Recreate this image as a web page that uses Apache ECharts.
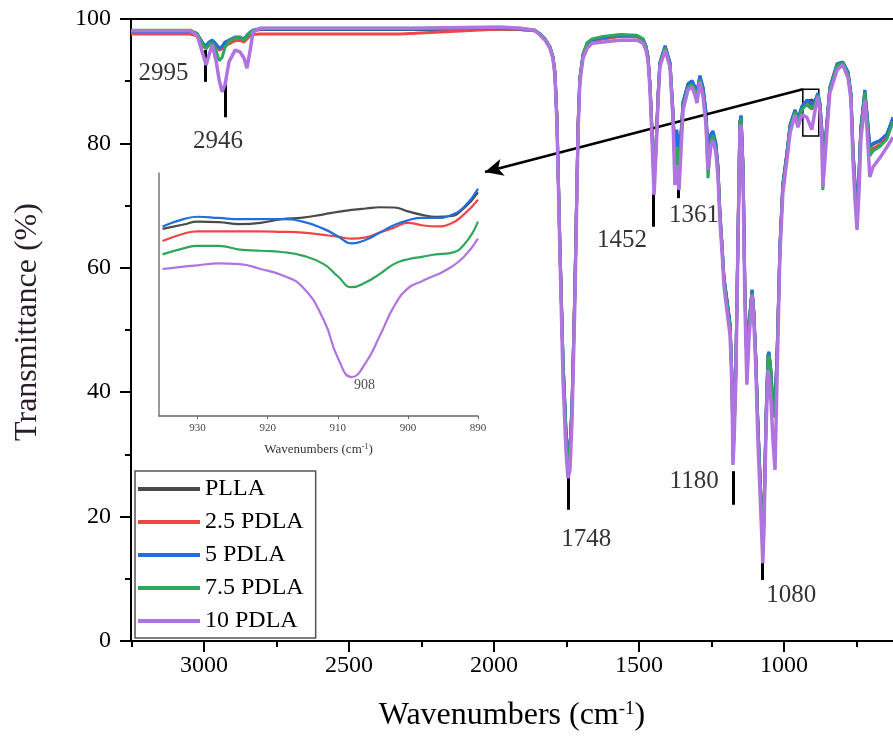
<!DOCTYPE html>
<html><head><meta charset="utf-8">
<script src="https://cdn.jsdelivr.net/npm/echarts@6/dist/echarts.min.js"></script>
<style>html,body{margin:0;padding:0;background:#fff}#c{width:893px;height:742px}</style>
</head><body><div id="c"></div>
<script>
// ---------- main spectrum data ----------
const seriesNames = ['PLLA', '2.5 PDLA', '5 PDLA', '7.5 PDLA', '10 PDLA'];
const wn = [
  3252, 3048, 3024, 3003, 2993, 2983, 2972, 2959, 2948, 2938,
  2928, 2914, 2893, 2876, 2862, 2852, 2841, 2831, 2807, 2669,
  2324, 2272, 1979, 1910, 1859, 1841, 1824, 1807, 1797, 1790,
  1783, 1773, 1762, 1752, 1745, 1738, 1731, 1721, 1710, 1704,
  1693, 1679, 1662, 1624, 1566, 1507, 1486, 1476, 1469, 1462,
  1455, 1448, 1441, 1434, 1428, 1410, 1393, 1383, 1376, 1369,
  1362, 1355, 1348, 1331, 1317, 1307, 1300, 1290, 1279, 1269,
  1262, 1252, 1245, 1235, 1228, 1221, 1214, 1207, 1197, 1186,
  1179, 1176, 1172, 1166, 1159, 1152, 1148, 1141, 1135, 1128,
  1121, 1110, 1104, 1097, 1090, 1083, 1076, 1073, 1069, 1062,
  1055, 1052, 1045, 1038, 1031, 1024, 1017, 1014, 1004, 990,
  979, 962, 952, 938, 921, 904, 894, 883, 876, 869,
  866, 859, 842, 817, 797, 779, 769, 762, 755, 748,
  741, 735, 721, 714, 704, 693, 669, 645, 624
];
const tPLLA = [
  98.0, 98.0, 97.6, 96.0, 95.6, 96.2, 96.5, 95.9, 95.2, 95.5,
  96.2, 96.5, 97.0, 97.0, 96.7, 97.3, 97.8, 98.1, 98.3, 98.3,
  98.3, 98.3, 98.4, 98.3, 98.1, 97.5, 96.7, 95.4, 93.9, 91.4,
  83.9, 63.9, 44.9, 33.9, 29.9, 30.9, 37.9, 56.9, 82.9, 90.4,
  94.2, 95.9, 96.5, 96.9, 97.3, 97.2, 96.7, 95.6, 93.9, 89.4,
  81.9, 73.9, 79.9, 87.9, 92.9, 95.6, 92.9, 85.3, 78.0, 81.5,
  76.8, 81.5, 86.6, 89.5, 90.0, 89.0, 88.2, 90.8, 88.9, 84.9,
  78.3, 81.4, 81.9, 79.9, 76.4, 68.9, 63.9, 58.4, 54.9, 50.9,
  41.9, 30.4, 33.9, 43.9, 63.9, 83.4, 84.4, 75.9, 56.9, 44.9,
  50.9, 56.4, 52.9, 45.4, 34.9, 26.9, 19.4, 16.9, 19.9, 35.9,
  45.9, 46.4, 43.4, 37.4, 37.9, 45.9, 57.9, 63.4, 73.4, 78.4,
  82.9, 85.3, 83.9, 85.9, 86.8, 87.0, 86.6, 88.0, 86.4, 81.9,
  76.9, 79.4, 88.9, 92.7, 93.0, 91.4, 87.9, 78.9, 73.4, 69.2,
  75.4, 82.4, 88.5, 84.9, 79.4, 79.9, 80.4, 81.4, 84.1
];
const t25PDLA = [
  97.6, 97.6, 97.3, 95.6, 95.3, 95.8, 96.0, 95.5, 95.0, 95.2,
  95.7, 96.0, 96.5, 96.6, 96.3, 96.8, 97.3, 97.5, 97.6, 97.6,
  97.6, 97.7, 98.4, 98.3, 98.1, 97.5, 96.7, 95.4, 93.9, 91.3,
  83.8, 63.8, 44.7, 33.7, 29.6, 30.7, 37.7, 56.7, 82.8, 90.3,
  94.1, 95.8, 96.4, 96.8, 97.2, 97.1, 96.6, 95.5, 93.8, 89.3,
  81.8, 73.8, 79.8, 87.8, 92.8, 95.5, 92.7, 84.8, 76.5, 80.0,
  76.0, 81.2, 86.4, 89.3, 89.8, 88.7, 87.8, 90.5, 88.7, 84.7,
  78.0, 81.2, 81.7, 79.7, 76.2, 68.7, 63.7, 58.2, 54.7, 50.7,
  41.7, 30.2, 33.7, 43.7, 63.7, 83.2, 84.2, 75.7, 56.7, 44.7,
  50.7, 56.2, 52.7, 45.2, 34.7, 26.7, 19.2, 16.7, 19.7, 35.7,
  45.7, 46.2, 43.2, 37.2, 37.7, 45.7, 57.7, 63.2, 73.2, 78.2,
  82.7, 85.1, 83.7, 85.7, 86.5, 86.0, 86.3, 87.7, 86.0, 81.5,
  76.0, 79.0, 88.7, 92.5, 92.8, 91.2, 87.7, 78.7, 73.2, 69.0,
  75.2, 82.2, 88.0, 84.7, 78.5, 79.2, 79.8, 81.0, 83.7
];
const t5PDLA = [
  98.0, 98.0, 97.6, 96.0, 95.7, 96.3, 96.6, 96.0, 95.3, 95.6,
  96.3, 96.6, 97.1, 97.1, 96.8, 97.4, 97.9, 98.2, 98.4, 98.4,
  98.4, 98.4, 98.5, 98.4, 98.2, 97.6, 96.8, 95.5, 94.0, 91.5,
  84.0, 64.0, 45.0, 34.0, 30.0, 31.0, 38.0, 57.0, 83.0, 90.5,
  94.3, 96.0, 96.6, 97.0, 97.4, 97.3, 96.8, 95.7, 94.0, 89.5,
  82.0, 74.0, 80.0, 88.0, 93.0, 95.7, 93.0, 85.4, 78.6, 82.2,
  77.3, 81.7, 86.7, 89.6, 90.1, 89.1, 88.3, 90.9, 89.0, 85.0,
  78.5, 81.5, 82.0, 80.0, 76.5, 69.0, 64.0, 58.5, 55.0, 51.0,
  42.0, 30.5, 34.0, 44.0, 64.0, 83.5, 84.5, 76.0, 57.0, 45.0,
  51.0, 56.5, 53.0, 45.5, 35.0, 27.0, 19.5, 17.0, 20.0, 36.0,
  46.0, 46.5, 43.5, 37.5, 38.0, 46.0, 58.0, 63.5, 73.5, 78.5,
  83.0, 85.4, 84.0, 86.0, 87.0, 86.3, 86.7, 88.1, 86.5, 82.0,
  77.0, 79.5, 89.0, 92.8, 93.1, 91.5, 88.0, 79.0, 73.5, 69.3,
  75.5, 82.5, 88.6, 85.0, 79.5, 80.0, 80.5, 81.5, 84.2
];
const t75PDLA = [
  98.2, 98.2, 97.7, 95.8, 95.2, 95.9, 96.2, 95.0, 93.3, 93.8,
  95.4, 96.4, 97.0, 97.0, 96.6, 97.2, 97.8, 98.2, 98.5, 98.5,
  98.5, 98.5, 98.6, 98.5, 98.2, 97.6, 96.8, 95.5, 94.0, 91.5,
  84.0, 64.0, 45.0, 33.5, 29.0, 30.5, 37.5, 56.5, 83.0, 90.5,
  94.4, 96.2, 96.8, 97.2, 97.5, 97.4, 96.7, 95.6, 93.8, 89.2,
  81.5, 73.5, 79.5, 87.5, 92.7, 95.4, 92.5, 84.0, 76.0, 79.5,
  75.5, 80.5, 86.0, 89.0, 89.5, 88.5, 87.7, 90.3, 88.0, 83.5,
  74.4, 80.5, 81.3, 79.0, 75.8, 68.5, 63.5, 58.0, 54.5, 50.5,
  41.5, 30.0, 33.5, 43.5, 63.5, 83.0, 84.0, 75.5, 56.5, 44.5,
  50.5, 56.0, 52.5, 45.0, 34.5, 26.5, 19.0, 16.5, 19.5, 35.5,
  45.5, 46.0, 43.0, 36.5, 36.0, 45.5, 57.5, 63.0, 73.0, 78.0,
  82.5, 85.0, 83.5, 85.5, 86.2, 85.5, 86.2, 87.8, 86.0, 80.0,
  72.5, 78.5, 88.7, 92.5, 92.9, 91.2, 87.7, 78.5, 72.5, 67.5,
  74.5, 81.8, 88.2, 84.2, 78.0, 78.8, 79.5, 80.7, 83.5
];
const t10PDLA = [
  98.1, 98.1, 97.4, 94.2, 92.6, 94.2, 95.8, 93.4, 90.2, 88.3,
  89.4, 93.1, 95.0, 94.7, 93.7, 92.1, 95.0, 97.9, 98.5, 98.5,
  98.5, 98.5, 98.7, 98.5, 98.2, 97.4, 96.6, 95.3, 93.7, 91.0,
  83.4, 62.9, 42.0, 30.7, 26.2, 27.5, 35.5, 54.8, 82.2, 89.9,
  93.7, 95.3, 96.1, 96.3, 96.6, 96.6, 96.1, 95.0, 93.4, 88.6,
  80.5, 71.7, 78.9, 87.0, 92.3, 95.0, 92.3, 84.2, 73.3, 76.5,
  72.5, 78.9, 85.4, 88.6, 89.1, 87.8, 86.5, 89.9, 87.5, 83.0,
  75.7, 79.7, 80.5, 78.6, 74.9, 67.7, 62.9, 57.2, 53.2, 49.2,
  40.4, 28.3, 32.3, 42.0, 62.9, 82.2, 83.0, 74.1, 54.8, 41.2,
  48.4, 55.6, 51.6, 43.6, 32.3, 24.3, 16.2, 12.5, 17.8, 33.9,
  43.6, 42.3, 38.7, 32.3, 27.5, 42.0, 56.4, 62.1, 72.0, 77.3,
  81.7, 84.6, 82.6, 84.6, 84.2, 82.2, 85.0, 87.5, 85.4, 80.1,
  73.0, 77.3, 88.1, 91.8, 92.6, 90.5, 87.0, 77.3, 70.9, 66.1,
  72.5, 80.5, 87.0, 82.6, 74.6, 76.2, 77.7, 79.4, 81.0
];
// ---------- inset (zoom 935-890 cm-1), relative intensity units ----------
const insetWn = [935, 932, 930, 927, 924, 921, 918, 915, 912, 910, 908, 906, 904, 902, 900, 898, 896, 894, 892, 890];
const iPLLA   = [77, 78.8, 80, 79.8, 79, 79.5, 81, 81.6, 83, 84, 84.8, 85.4, 85.9, 85.8, 84.2, 82.8, 82, 82.2, 85.5, 92];
const i25PDLA = [72, 75, 76, 76, 76, 76, 75.8, 75.5, 74.5, 73.8, 73, 73.5, 75.5, 77.5, 79.5, 78.5, 78, 79, 83, 89];
const i5PDLA  = [78, 81, 82, 81.5, 81, 81, 81, 80, 77, 74, 71, 72.5, 75.5, 78.5, 80.5, 81.5, 81.5, 82.5, 86, 93.5];
const i75PDLA = [66.5, 69, 70, 70, 68.5, 68, 67.5, 66, 62.5, 57.5, 53, 55, 58.5, 62.5, 64.5, 65.5, 66.5, 67, 70.5, 80];
const i10PDLA = [60.5, 61.5, 62, 62.8, 62.5, 60.5, 58, 53, 39.5, 24, 16, 22, 33, 45, 52.5, 55.5, 58, 61, 65.5, 73];
const insetTicks = [930, 920, 910, 900, 890];
// ---------- axis ticks ----------
const xMajorTicks = [3000, 2500, 2000, 1500, 1000];
const xMinorTicks = [3250, 2750, 2250, 1750, 1250, 750];
// ---------- peak annotations ----------
const peakLabels   = ['2995', '2946', '1452', '1361', '1748', '1180', '1080'];
const peakMarkW    = [2997, 2928, 1450, 1366, 1743, 1174, 1076];
const peakMarkTop  = [95.0, 89.7, 72.0, 76.4, 26.4, 27.3, 15.1];
const peakMarkBot  = [89.9, 84.2, 66.6, 71.2, 21.1, 21.9, 9.8];
const peakLabelW   = [3140, 2952, 1559, 1310, 1682, 1310, 975];
const peakLabelT   = [91.2, 80.3, 64.4, 68.4, 16.4, 25.6, 7.3];
// zoom box and arrow (in data units)
const zoomBox = {w1: 935, w2: 880, t1: 88.7, t2: 81.2};
const arrowFrom = [935, 88.7];
const arrowTo = [2031, 75.4];
const insetPeak = 908;

const colors = ['#4a4a4a', '#f24646', '#1f6fdc', '#2fa65c', '#b074e0'];
const mainVals = [tPLLA, t25PDLA, t5PDLA, t75PDLA, t10PDLA];
const insetVals = [iPLLA, i25PDLA, i5PDLA, i75PDLA, i10PDLA];
const FONT = "'Liberation Serif', 'Times New Roman', serif";

const series = [];
seriesNames.forEach((n, k) => {
  series.push({
    name: n, type: 'line', xAxisIndex: 0, yAxisIndex: 0,
    data: wn.map((w, i) => [w, mainVals[k][i]]),
    symbol: 'none', showSymbol: false,
    lineStyle: {color: colors[k], width: k === 4 ? 3.5 : 3},
    itemStyle: {color: colors[k]}, z: 2 + k
  });
});
seriesNames.forEach((n, k) => {
  series.push({
    name: n, type: 'line', xAxisIndex: 3, yAxisIndex: 1,
    data: insetWn.map((w, i) => [w, insetVals[k][i]]),
    symbol: 'none', showSymbol: false, smooth: 0.5,
    lineStyle: {color: colors[k], width: 2.2},
    itemStyle: {color: colors[k]}, z: 2 + k
  });
});
// annotations on main plot
series.push({
  type: 'line', xAxisIndex: 0, yAxisIndex: 0, data: [], z: 20, silent: true,
  markLine: {
    silent: true, animation: false,
    label: {show: false},
    symbol: ['none', 'none'],
    lineStyle: {color: '#000', width: 3, type: 'solid'},
    data: peakMarkW.map((w, i) => [{coord: [w, peakMarkTop[i]]}, {coord: [w, peakMarkBot[i]]}])
      .concat([[{coord: arrowFrom, symbol: 'none'}, {coord: arrowTo, symbol: 'arrow', symbolSize: [13, 18],
        lineStyle: {width: 2.5}}]])
  },
  markArea: {
    silent: true,
    itemStyle: {color: 'rgba(0,0,0,0)', borderColor: '#000', borderWidth: 1.5},
    data: [[{coord: [zoomBox.w1, zoomBox.t1]}, {coord: [zoomBox.w2, zoomBox.t2]}]]
  }
});
series.push({
  type: 'scatter', xAxisIndex: 0, yAxisIndex: 0, z: 21, silent: true,
  symbolSize: 0,
  data: peakLabelW.map((w, i) => [w, peakLabelT[i], peakLabels[i]]),
  label: {show: true, position: 'inside', formatter: p => p.data[2],
    fontSize: 25, fontFamily: FONT, color: '#000'}
});
// inset annotation
series.push({
  type: 'line', xAxisIndex: 3, yAxisIndex: 1, data: [], z: 20, silent: true, clip: false,
  markLine: {
    silent: true, animation: false, symbol: ['none', 'none'],
    label: {show: false},
    lineStyle: {color: '#222', width: 1.5, type: 'solid'},
    data: [[{coord: [insetPeak, 102.5]}, {coord: [insetPeak, 2.5]}]]
  }
});
series.push({
  type: 'scatter', xAxisIndex: 3, yAxisIndex: 1, z: 21, silent: true, symbolSize: 0,
  data: [[906.2, 12.8, String(insetPeak)]],
  label: {show: true, position: 'inside', formatter: p => p.data[2],
    fontSize: 14, fontFamily: FONT, color: '#222'}
});

const option = {
  animation: false,
  backgroundColor: '#fff',
  textStyle: {fontFamily: FONT},
  grid: [
    {left: 131, top: 19, right: 0, bottom: 101},
    {left: 159, top: 173, width: 319, height: 243}
  ],
  legend: {
    data: seriesNames, orient: 'vertical', left: 135, top: 471,
    icon: 'rect', itemWidth: 62, itemHeight: 4, itemGap: 9,
    padding: [6, 12, 5, 3], borderColor: '#555', borderWidth: 1.5,
    selectedMode: false,
    textStyle: {fontSize: 24, lineHeight: 24, fontFamily: FONT, color: '#000', padding: [0, 0, 0, 0]}
  },
  xAxis: [
    {
      type: 'value', gridIndex: 0, min: 624, max: 3252, inverse: true, position: 'bottom',
      axisLine: {show: true, onZero: false, lineStyle: {color: '#000', width: 2}},
      axisTick: {show: true, customValues: xMajorTicks, length: 11, lineStyle: {color: '#000', width: 2}},
      axisLabel: {customValues: xMajorTicks, fontSize: 24, color: '#000', margin: 13, fontFamily: FONT,
        formatter: v => String(v)},
      splitLine: {show: false},
      name: 'Wavenumbers (cm{sup|-1})', nameLocation: 'middle', nameGap: 59,
      nameTextStyle: {fontSize: 32, color: '#000', fontFamily: FONT,
        rich: {sup: {fontSize: 19, verticalAlign: 'top', fontFamily: FONT, color: '#000', padding: [0, 0, 12, 0]}}}
    },
    {
      type: 'value', gridIndex: 0, min: 624, max: 3252, inverse: true, position: 'bottom',
      axisLine: {show: false},
      axisTick: {show: true, customValues: xMinorTicks, length: 6, lineStyle: {color: '#000', width: 2}},
      axisLabel: {show: false}, splitLine: {show: false}
    },
    {
      type: 'value', gridIndex: 0, min: 624, max: 3252, inverse: true, position: 'top',
      axisLine: {show: true, onZero: false, lineStyle: {color: '#000', width: 2}},
      axisTick: {show: false}, axisLabel: {show: false}, splitLine: {show: false}
    },
    {
      type: 'value', gridIndex: 1, min: 890, max: 935.5, inverse: true, position: 'bottom',
      axisLine: {show: true, onZero: false, lineStyle: {color: '#666', width: 1.5}},
      axisTick: {show: true, customValues: insetTicks, length: 3, lineStyle: {color: '#666'}},
      axisLabel: {customValues: insetTicks, fontSize: 11, color: '#444', margin: 7, fontFamily: FONT},
      splitLine: {show: false},
      name: 'Wavenumbers (cm{sup|-1})', nameLocation: 'middle', nameGap: 27,
      nameTextStyle: {fontSize: 13, color: '#333', fontFamily: FONT,
        rich: {sup: {fontSize: 8, verticalAlign: 'top', color: '#333', padding: [0, 0, 5, 0]}}}
    }
  ],
  yAxis: [
    {
      type: 'value', gridIndex: 0, min: 0, max: 100, interval: 20,
      axisLine: {show: true, onZero: false, lineStyle: {color: '#000', width: 2}},
      axisTick: {show: true, length: 11, lineStyle: {color: '#000', width: 2}},
      minorTick: {show: true, splitNumber: 2, length: 6, lineStyle: {color: '#000', width: 2}},
      axisLabel: {fontSize: 24, color: '#000', margin: 20, fontFamily: FONT},
      splitLine: {show: false}, minorSplitLine: {show: false},
      name: 'Transmittance (%)', nameLocation: 'middle', nameGap: 87,
      nameTextStyle: {fontSize: 32, color: '#2a1c2a', fontFamily: FONT, padding: [0, 0, 0, 16]}
    },
    {
      type: 'value', gridIndex: 1, min: 0, max: 100,
      axisLine: {show: true, onZero: false, lineStyle: {color: '#777', width: 1.5}},
      axisTick: {show: false}, axisLabel: {show: false}, splitLine: {show: false}
    }
  ],
  series: series
};
const chart = echarts.init(document.getElementById('c'), null, {renderer: 'canvas'});
chart.setOption(option);
</script></body></html>
